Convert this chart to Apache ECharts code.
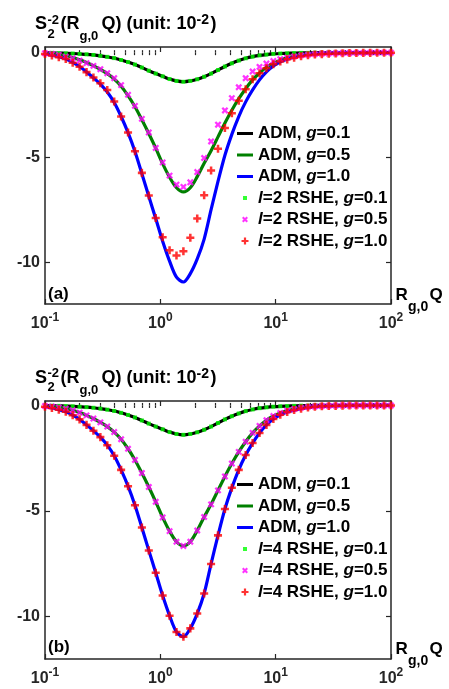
<!DOCTYPE html>
<html>
<head>
<meta charset="utf-8">
<script src="https://cdn.jsdelivr.net/npm/echarts@6/dist/echarts.min.js"></script>
<style>
  html, body { margin: 0; padding: 0; background: #fff; }
  #chart { width: 449px; height: 689px; }
</style>
</head>
<body>
<div id="chart"></div>
<script>
// R_g,0 Q sample points (log spaced, 51 points from 0.1 to 100)
const q = [0.1, 0.1148, 0.1318, 0.1514, 0.1738, 0.1995, 0.2291, 0.263, 0.302, 0.3467,
  0.3981, 0.4571, 0.5248, 0.6026, 0.6918, 0.7943, 0.912, 1.0471, 1.2023, 1.3804,
  1.5849, 1.8197, 2.0893, 2.3988, 2.7542, 3.1623, 3.6308, 4.1687, 4.7863, 5.4954,
  6.3096, 7.2444, 8.3176, 9.5499, 10.965, 12.589, 14.454, 16.596, 19.055, 21.878,
  25.119, 28.84, 33.113, 38.019, 43.652, 50.119, 57.544, 66.069, 75.858, 87.096, 100];

// ADM curves (unit 10^-2)
const admG01 = [-0.01, -0.01, -0.02, -0.03, -0.04, -0.06, -0.08, -0.11, -0.15, -0.2,
  -0.26, -0.35, -0.45, -0.57, -0.71, -0.86, -1.0, -1.13, -1.26, -1.35,
  -1.39, -1.35, -1.27, -1.15, -1.0, -0.83, -0.66, -0.51, -0.38, -0.27,
  -0.19, -0.13, -0.09, -0.06, -0.04, -0.03, -0.02, -0.01, -0.01, 0,
  0, 0, 0, 0, 0, 0, 0, 0, 0, 0, 0];
const admG05 = [-0.03, -0.05, -0.09, -0.15, -0.23, -0.34, -0.47, -0.62, -0.8, -1.0,
  -1.26, -1.6, -2.05, -2.58, -3.2, -3.86, -4.56, -5.3, -5.95, -6.45,
  -6.65, -6.45, -5.92, -5.28, -4.68, -4.02, -3.36, -2.75, -2.2, -1.72,
  -1.3, -0.97, -0.7, -0.5, -0.36, -0.25, -0.17, -0.11, -0.07, -0.05,
  -0.03, -0.02, -0.01, 0, 0, 0, 0, 0, 0, 0, 0];
const admG10 = [-0.06, -0.12, -0.2, -0.3, -0.46, -0.66, -0.92, -1.2, -1.5, -1.88,
  -2.38, -3.05, -3.82, -4.72, -5.78, -6.86, -7.92, -9.0, -9.95, -10.72,
  -10.95, -10.55, -9.85, -8.9, -7.5, -6.15, -4.9, -3.9, -3.05, -2.35,
  -1.78, -1.3, -0.92, -0.64, -0.44, -0.31, -0.22, -0.15, -0.1, -0.06,
  -0.04, -0.03, -0.02, -0.01, 0, 0, 0, 0, 0, 0, 0];

// l=2 RSHE points, panel (a)
const rshe2G01 = admG01;  // dots sit on the ADM g=0.1 curve
const rshe2G05 = [-0.03, -0.06, -0.11, -0.19, -0.27, -0.38, -0.5, -0.63, -0.79, -0.98,
  -1.22, -1.55, -2.01, -2.54, -3.16, -3.81, -4.55, -5.24, -5.87, -6.3,
  -6.41, -6.19, -5.7, -5.03, -4.24, -3.44, -2.76, -2.17, -1.65, -1.22,
  -0.9, -0.68, -0.52, -0.4, -0.31, -0.24, -0.18, -0.13, -0.1, -0.07,
  -0.05, -0.04, -0.03, -0.02, -0.02, -0.01, -0.01, 0, 0, 0, 0];
const rshe2G10 = [-0.06, -0.14, -0.22, -0.3, -0.48, -0.67, -0.93, -1.19, -1.46, -1.78,
  -2.33, -3.05, -3.81, -4.71, -5.74, -6.82, -7.89, -8.81, -9.43, -9.68,
  -9.48, -8.84, -7.92, -6.81, -5.63, -4.59, -3.6, -2.89, -2.3, -1.75,
  -1.27, -0.98, -0.74, -0.55, -0.42, -0.32, -0.24, -0.17, -0.12, -0.09,
  -0.07, -0.05, -0.04, -0.03, -0.02, -0.02, -0.01, -0.01, 0, 0, 0];

// l=4 RSHE points, panel (b): they lie on the ADM curves
const rshe4G01 = admG01;
const rshe4G05 = admG05;
const rshe4G10 = admG10;

// ticks
const xMinor = [0.2, 0.3, 0.4, 0.5, 0.6, 0.7, 0.8, 0.9, 2, 3, 4, 5, 6, 7, 8, 9,
  20, 30, 40, 50, 60, 70, 80, 90];
const yTicks = [-10, -5, 0];

const FONT = '"Liberation Sans", Arial, sans-serif';
const AX = '#262626';
const LINE_ICON = 'path://M0,0H16V3H0Z';
// symbols drawn in a 10x10 frame so that the legend and the plot use the same size
const DOT = 'path://M0,0M10,10M3,3H7V7H3Z';
const CROSS = 'path://M0,0M10,10M2,3.4L3.4,2L5,3.6L6.6,2L8,3.4L6.4,5L8,6.6L6.6,8L5,6.4L3.4,8L2,6.6L3.6,5Z';
const PLUS = 'path://M0,0M10,10M3.9,1.5H6.1V3.9H8.5V6.1H6.1V8.5H3.9V6.1H1.5V3.9H3.9Z';

const panels = [
  { top: 47, height: 257, ymax: 0.27, tag: '(a)', l: 2, dy: 0, legendTop: 124.5,
    g01: rshe2G01, g05: rshe2G05, g10: rshe2G10 },
  { top: 401, height: 258, ymax: 0.21, tag: '(b)', l: 4, dy: 353.5, legendTop: 475.5,
    g01: rshe4G01, g05: rshe4G05, g10: rshe4G10 }
];

const chart = echarts.init(document.getElementById('chart'));

const grids = [], xAxes = [], yAxes = [], series = [], legends = [], graphics = [];

const pair = arr => q.map((x, k) => [x, arr[k]]);

panels.forEach((p, i) => {
  grids.push({ left: 45, right: 58, top: p.top, height: p.height });

  const baseX = {
    type: 'log', gridIndex: i, logBase: 10, min: 0.1, max: 100,
    axisLine: { show: true, onZero: false, lineStyle: { color: AX, width: 1.5 } },
    splitLine: { show: false },
    axisLabel: { show: false }
  };
  // bottom, with labels
  xAxes.push(Object.assign({}, baseX, {
    position: 'bottom',
    axisTick: { show: true, inside: true, length: 5, lineStyle: { color: AX, width: 1.2 } },
    axisLabel: {
      show: true, margin: 12,
      formatter: v => '{b|10}{s|' + Math.round(Math.log10(v)) + '}',
      rich: {
        b: { fontSize: 16, fontWeight: 'bold', fontFamily: FONT, color: AX, lineHeight: 16, verticalAlign: 'bottom' },
        s: { fontSize: 12, fontWeight: 'bold', fontFamily: FONT, color: AX, lineHeight: 12, verticalAlign: 'bottom', padding: [0, 0, 8, 0] }
      }
    }
  }));
  // bottom minor ticks
  xAxes.push(Object.assign({}, baseX, {
    position: 'bottom',
    axisLine: { show: false },
    axisTick: { show: true, inside: true, length: 2.5, customValues: xMinor, lineStyle: { color: AX, width: 1.2 } }
  }));
  // top mirror
  xAxes.push(Object.assign({}, baseX, {
    position: 'top',
    axisTick: { show: true, inside: true, length: 5, lineStyle: { color: AX, width: 1.2 } }
  }));
  xAxes.push(Object.assign({}, baseX, {
    position: 'top',
    axisLine: { show: false },
    axisTick: { show: true, inside: true, length: 2.5, customValues: xMinor, lineStyle: { color: AX, width: 1.2 } }
  }));

  const baseY = {
    type: 'value', gridIndex: i, min: -12, max: p.ymax,
    axisLine: { show: true, onZero: false, lineStyle: { color: AX, width: 1.5 } },
    axisTick: { show: true, inside: true, length: 5, customValues: yTicks, lineStyle: { color: AX, width: 1.2 } },
    splitLine: { show: false }
  };
  yAxes.push(Object.assign({}, baseY, {
    position: 'left',
    axisLabel: { show: true, customValues: yTicks, margin: 5, fontSize: 16, fontWeight: 'bold', fontFamily: FONT, color: AX }
  }));
  yAxes.push(Object.assign({}, baseY, { position: 'right', axisLabel: { show: false } }));

  const xi = 4 * i, yi = 2 * i;
  const line = (name, data, color) => ({
    type: 'line', name, xAxisIndex: xi, yAxisIndex: yi, data: pair(data),
    symbol: 'none', smooth: 0.3, lineStyle: { color, width: 3.2 }, itemStyle: { color }, z: 2
  });
  const marks = (name, data, color, symbol, size) => ({
    type: 'scatter', name, xAxisIndex: xi, yAxisIndex: yi, data: pair(data),
    symbol, symbolSize: size, itemStyle: { color }, clip: false, z: 3
  });
  const n01 = 'l=' + p.l + ' RSHE, g=0.1', n05 = 'l=' + p.l + ' RSHE, g=0.5', n10 = 'l=' + p.l + ' RSHE, g=1.0';
  series.push(
    line('ADM, g=0.1', admG01, '#000000'),
    line('ADM, g=0.5', admG05, '#008000'),
    line('ADM, g=1.0', admG10, '#0000ff'),
    marks(n01, p.g01, '#00ff00', DOT, 10),
    marks(n05, p.g05, '#ff00ff', CROSS, 11.5),
    marks(n10, p.g10, '#ff0000', PLUS, 11.5)
  );

  legends.push({
    orient: 'vertical', left: 237, top: p.legendTop, padding: 0,
    itemWidth: 16, itemHeight: 10, itemGap: 3.5, selectedMode: false,
    itemStyle: { borderWidth: 0 },
    data: [
      { name: 'ADM, g=0.1', icon: LINE_ICON }, { name: 'ADM, g=0.5', icon: LINE_ICON },
      { name: 'ADM, g=1.0', icon: LINE_ICON }, n01, n05, n10
    ],
    formatter: name => name.replace(/^l=/, '{i|l}=').replace(/g=/, '{i|g}='),
    textStyle: {
      fontFamily: FONT, fontSize: 17, fontWeight: 'bold', color: '#000', lineHeight: 18,
      rich: { i: { fontFamily: FONT, fontSize: 17, fontWeight: 'bold', fontStyle: 'italic', color: '#000', lineHeight: 18 } }
    }
  });

  const txt = (text, x, y, size) => ({
    type: 'text', x, y: y + p.dy,
    style: { text, font: 'bold ' + size + 'px ' + FONT, fill: '#000', textAlign: 'left', textVerticalAlign: 'middle' }
  });
  graphics.push(
    txt('S', 35, 24.2, 18), txt('-2', 47.5, 20.3, 13), txt('2', 47.5, 34.3, 13),
    txt('(R', 60.5, 24.2, 18), txt('g,0', 79.5, 36.7, 13), txt('Q) (unit: 10', 101.5, 24.2, 18),
    txt('-2', 196.5, 20.3, 14), txt(')', 210.5, 24.2, 18),
    txt(p.tag, 48, 294.2, 17),
    txt('R', 395.5, 295.8, 17), txt('g,0', 408, 307.5, 14), txt('Q', 429.5, 295.8, 17)
  );
});

chart.setOption({
  animation: false,
  backgroundColor: '#fff',
  grid: grids,
  xAxis: xAxes,
  yAxis: yAxes,
  legend: legends,
  series,
  graphic: graphics
});
</script>
</body>
</html>
